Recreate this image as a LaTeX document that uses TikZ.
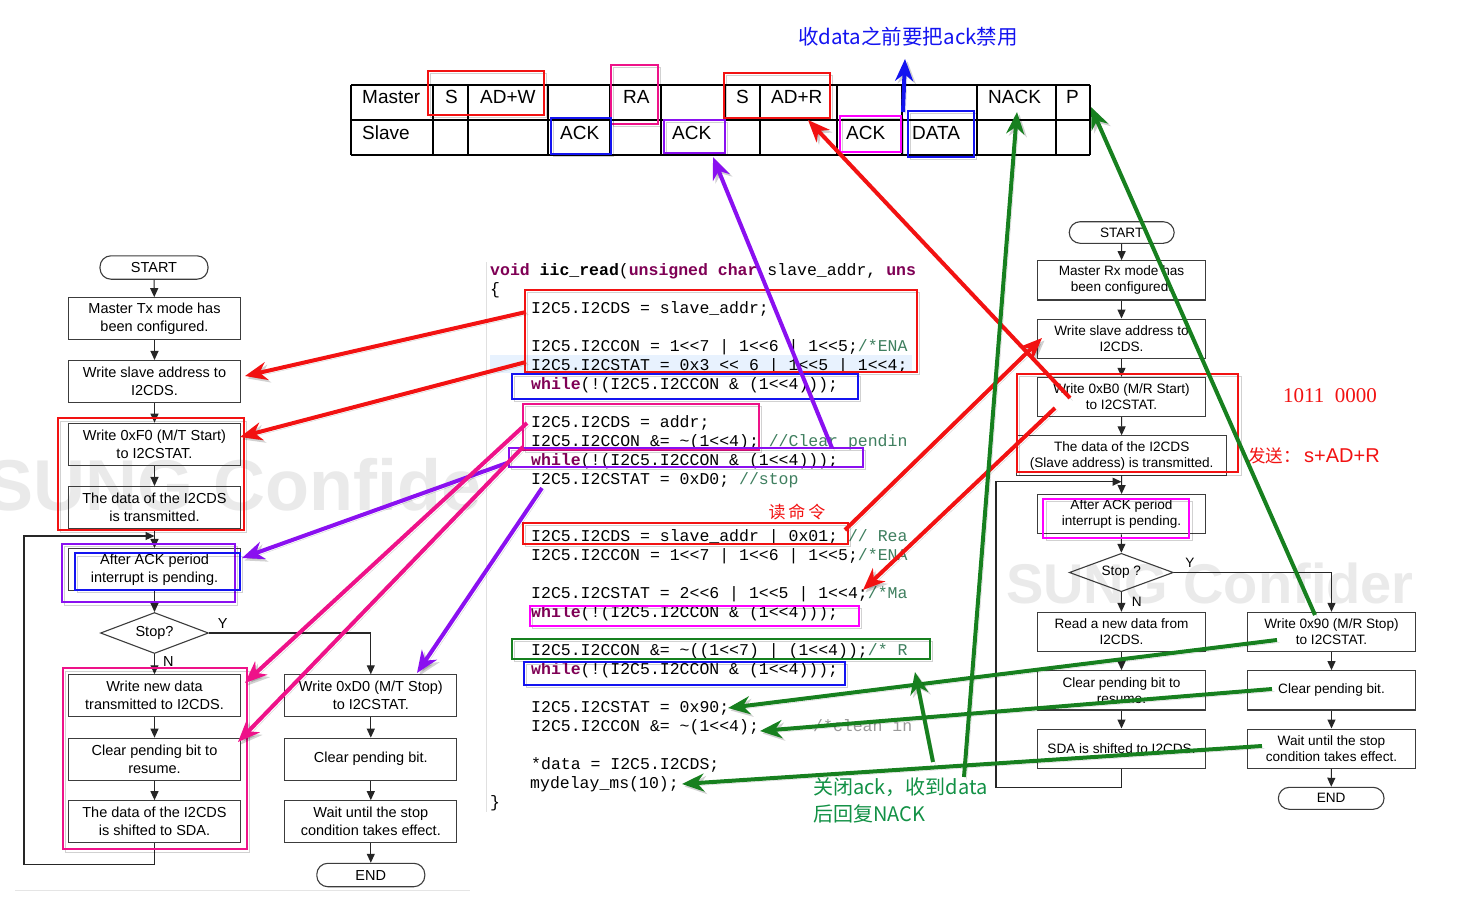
\documentclass[tikz,border=0pt]{standalone}
\usepackage{fontspec}
\setmainfont{Liberation Sans}
\setmonofont{Liberation Mono}
\newfontfamily\cjk{Noto Sans CJK SC}
\newfontfamily\serifnum{Liberation Serif}
\usetikzlibrary{arrows.meta,shapes.geometric,calc}
\definecolor{kwc}{HTML}{7F0055}
\definecolor{cmc}{HTML}{3F7F5F}
\definecolor{aRed}{HTML}{F21212}
\definecolor{aPink}{HTML}{EE1289}
\definecolor{aMag}{HTML}{FF00FF}
\definecolor{aPur}{HTML}{8A10F0}
\definecolor{aBlue}{HTML}{1414F0}
\definecolor{aGreen}{HTML}{17801F}
\definecolor{tGreen}{HTML}{129145}
\definecolor{hlc}{HTML}{E8F2FE}
\definecolor{edgec}{HTML}{3C3C3C}
\definecolor{wmc}{HTML}{EAEAEA}
\newcommand{\kwd}[1]{\textcolor{kwc}{\bfseries #1}}
\newcommand{\cmt}[1]{\textcolor{cmc}{#1}}
\tikzset{
  shadowed/.style={preaction={draw=black, opacity=0.18, transform canvas={shift={(2.5pt,-2.5pt)}}}},
  bigarrow/.style={draw=#1, line width=4pt, -{Stealth[length=22pt,width=18pt,inset=7pt]}, shadowed},
  hbox/.style={draw=#1, line width=2.2pt, shadowed},
  fbl/.style={draw=edgec, line width=1.1pt, minimum width=172pt, minimum height=42pt, align=center, inner sep=0pt, font=\fontsize{14.5}{18}\selectfont},
  fbr/.style={fbl, minimum width=168.4pt, minimum height=39.3pt, font=\fontsize{13.6}{16}\selectfont},
  pill/.style={draw=edgec, line width=1.1pt, rounded corners=11pt, minimum width=108pt, minimum height=23.4pt, inner sep=0pt, font=\fontsize{14.5}{16}\selectfont},
  dia/.style={diamond, aspect=2.6, draw=edgec, line width=1.1pt, minimum width=108pt, minimum height=41pt, inner sep=0pt, font=\fontsize{14.5}{16}\selectfont},
  flow/.style={draw=black!85, line width=1.1pt, -{Triangle[length=9pt,width=8pt]}},
  lab/.style={inner sep=0pt, font=\fontsize{14.5}{16}\selectfont},
  tline/.style={draw=black, line width=1.2pt},
  ttext/.style={anchor=base west, inner sep=0pt, font=\fontsize{19}{22}\selectfont},
  code/.style={anchor=base west, inner sep=0pt, font=\ttfamily\fontsize{16.5}{19}\selectfont},
  wmark/.style={anchor=base west, inner sep=0pt, text=wmc, font=\bfseries},
}
\begin{document}
\begin{tikzpicture}[x=1pt,y=-1pt]
\useasboundingbox (0,0) rectangle (1459,898);
\fill[white] (0,0) rectangle (1459,898);

% ---------- watermarks (behind) ----------
\begin{scope}
\clip (0,0) rectangle (480,898);
\node[wmark, font=\bfseries\fontsize{72}{76}\selectfont] (wm1) at (-15,510) {SUNG Confide};
\end{scope}
\node[wmark, font=\bfseries\fontsize{56}{60}\selectfont] (wm2) at (1006,603) {SUNG Confider};

% ---------- top table ----------
\foreach \yy in {85,120,155} \draw[tline] (351,\yy) -- (1090,\yy);
\foreach \xx in {351,433,468,548,610,661,725,760,837,902,977,1056,1090} \draw[tline] (\xx,85) -- (\xx,155);
\node[ttext] (tMaster) at (362,103) {Master};
\node[ttext] (tS1) at (445,103) {S};
\node[ttext] (tADW) at (480,103) {AD+W};
\node[ttext] (tRA) at (623,103) {RA};
\node[ttext] (tS2) at (736,103) {S};
\node[ttext] (tADR) at (771,103) {AD+R};
\node[ttext] (tNACK) at (988,103) {NACK};
\node[ttext] (tP) at (1066,103) {P};
\node[ttext] (tSlave) at (362,139) {Slave};
\node[ttext] (tACK1) at (560,139) {ACK};
\node[ttext] (tACK2) at (672,139) {ACK};
\node[ttext] (tACK3) at (846,139) {ACK};
\node[ttext] (tDATA) at (912,139) {DATA};

\draw[hbox=aRed] (428,71) rectangle (544,115);
\draw[hbox=aPink] (611,65) rectangle (658,124);
\draw[hbox=aRed] (724,73) rectangle (830,118);
\draw[hbox=aBlue] (551,118) rectangle (611,154);
\draw[hbox=aPur] (664,120) rectangle (725,153);
\draw[hbox=aMag] (840,116) rectangle (901,152);
\draw[hbox=aBlue] (908,111) rectangle (974,157);

\node[font=\cjk\fontsize{20.5}{23}\selectfont, text=aBlue, inner sep=0pt] (noteB) at (908,37) {收data之前要把ack禁用};

% ---------- code ----------
\fill[hlc] (490,355) rectangle (912,373);
\draw[black!12, line width=0.8pt] (486,262) -- (486,812);
\node[code] (c1) at (490,275.5) {\kwd{void} \textbf{iic\_read}(\kwd{unsigned char} slave\_addr, \kwd{uns}};
\node[code] (c2) at (490,294.5) {\{};
\node[code] (c3) at (531,313.5) {I2C5.I2CDS = slave\_addr;};
\node[code] (c5) at (531,351.5) {I2C5.I2CCON = 1<<7 | 1<<6 | 1<<5;\cmt{/*ENA}};
\node[code] (c6) at (531,370.5) {I2C5.I2CSTAT = 0x3 << 6 | 1<<5 | 1<<4;};
\node[code] (c7) at (531,389.5) {\kwd{while}(!(I2C5.I2CCON \& (1<<4)));};
\node[code] (c9) at (531,427.5) {I2C5.I2CDS = addr;};
\node[code] (c10) at (531,446.5) {I2C5.I2CCON \&= \textasciitilde(1<<4); \cmt{//Clear pendin}};
\node[code] (c11) at (531,465.5) {\kwd{while}(!(I2C5.I2CCON \& (1<<4)));};
\node[code] (c12) at (531,484.5) {I2C5.I2CSTAT = 0xD0; \cmt{//stop}};
\node[code] (c15) at (531,541.5) {I2C5.I2CDS = slave\_addr | 0x01; \cmt{// Rea}};
\node[code] (c16) at (531,560.5) {I2C5.I2CCON = 1<<7 | 1<<6 | 1<<5;\cmt{/*ENA}};
\node[code] (c18) at (531,598.5) {I2C5.I2CSTAT = 2<<6 | 1<<5 | 1<<4;\cmt{/*Ma}};
\node[code] (c19) at (531,617.5) {\kwd{while}(!(I2C5.I2CCON \& (1<<4)));};
\node[code] (c21) at (531,655.5) {I2C5.I2CCON \&= \textasciitilde((1<<7) | (1<<4));\cmt{/* R}};
\node[code] (c22) at (531,674.5) {\kwd{while}(!(I2C5.I2CCON \& (1<<4)));};
\node[code] (c24) at (531,712.5) {I2C5.I2CSTAT = 0x90;};
\node[code] (c25) at (531,731.5) {I2C5.I2CCON \&= \textasciitilde(1<<4);};
\node[code, text=black!40] (c25c) at (813,731.5) {/*clean in};
\node[code] (c27) at (531,769.5) {*data = I2C5.I2CDS;};
\node[code] (c28) at (530,788.5) {mydelay\_ms(10);};
\node[code] (c29) at (490,807.5) {\}};

\draw[hbox=aRed] (525,290) rectangle (917,372);
\draw[hbox=aBlue] (512,374) rectangle (858,399);
\draw[hbox=aPink] (523,404) rectangle (759,450);
\draw[hbox=aPur] (509,448) rectangle (863,467);
\draw[hbox=aRed] (523,523) rectangle (848,544);
\draw[hbox=aMag] (530,606) rectangle (859,626);
\draw[hbox=aGreen] (512,639) rectangle (930,659);
\draw[hbox=aBlue] (524,662) rectangle (845,685);

\node[font=\cjk\fontsize{17}{20}\selectfont, text=aRed, inner sep=0pt] (noteR) at (797,512) {读\,命\,令};

% ---------- left flowchart ----------
\node[pill] (ls) at (154,267.5) {START};
\node[fbl] (l1) at (154.5,318.7) {Master Tx mode has\\been configured.};
\node[fbl] (l2) at (154.5,381.5) {Write slave address to\\I2CDS.};
\node[fbl] (l3) at (154.5,444.2) {Write 0xF0 (M/T Start)\\to I2CSTAT.};
\node[fbl] (l4) at (154.5,507.5) {The data of the I2CDS\\is transmitted.};
\node[fbl] (l5) at (154.5,569.5) {After ACK period\\interrupt is pending.};
\node[dia] (ld) at (154.5,633) {Stop?};
\node[fbl] (l6) at (154.5,695.8) {Write new data\\transmitted to I2CDS.};
\node[fbl] (l7) at (154.5,759.2) {Clear pending bit to\\resume.};
\node[fbl] (l8) at (154.5,821.7) {The data of the I2CDS\\is shifted to SDA.};
\node[fbl] (m6) at (370.8,695.8) {Write 0xD0 (M/T Stop)\\to I2CSTAT.};
\node[fbl] (m7) at (370.8,759.2) {Clear pending bit.};
\node[fbl] (m8) at (370.8,821.7) {Wait until the stop\\condition takes effect.};
\node[pill] (le) at (370.8,875) {END};
\coordinate (lj) at (154.5,536);
\draw[flow] (ls) -- (l1);
\draw[flow] (l1) -- (l2);
\draw[flow] (l2) -- (l3);
\draw[flow] (l3) -- (l4);
\draw[flow] (l4) -- (l5);
\draw[flow] (l5) -- (ld);
\draw[flow] (ld) -- (l6);
\draw[flow] (l6) -- (l7);
\draw[flow] (l7) -- (l8);
\draw[flow] (ld.east) -| (m6.north);
\draw[flow] (m6) -- (m7);
\draw[flow] (m7) -- (m8);
\draw[flow] (m8) -- (le);
\draw[flow] (l8.south) -- ++(0,21) -| (24,536) -- (lj);
\node[lab] (lY) at (222.7,623.3) {Y};
\node[lab] (lN) at (168.3,661.7) {N};
\draw[black!10, line width=0.8pt] (15,890) -- (470,890);

\draw[hbox=aRed] (57.7,418.3) rectangle (244,530);
\draw[hbox=aPur] (61.7,544) rectangle (235,602.3);
\draw[hbox=aBlue] (75,553.3) rectangle (240,590);
\draw[hbox=aPink] (62.7,668.3) rectangle (246.7,849.3);

% ---------- right flowchart ----------
\node[pill, minimum width=105pt, minimum height=21.6pt, font=\fontsize{13.6}{16}\selectfont] (rs) at (1121.7,232.5) {START};
\node[fbr] (r1) at (1121.5,280.3) {Master Rx mode has\\been configured.};
\node[fbr] (r2) at (1121.5,338.7) {Write slave address to\\I2CDS.};
\node[fbr] (r3) at (1121.5,397) {Write 0xB0 (M/R Start)\\to I2CSTAT.};
\node[fbr, minimum width=210pt] (r4) at (1121.7,455.5) {The data of the I2CDS\\(Slave address) is transmitted.};
\node[fbr] (r5) at (1121.5,514.2) {After ACK period\\interrupt is pending.};
\node[dia, minimum width=104pt, minimum height=38.4pt, font=\fontsize{13.6}{16}\selectfont] (rd) at (1121.3,572.5) {Stop ?};
\node[fbr] (r6) at (1121.5,632) {Read a new data from\\I2CDS.};
\node[fbr] (r7) at (1121.5,690.3) {Clear pending bit to\\resume.};
\node[fbr] (r8) at (1121.5,748.7) {SDA is shifted to I2CDS.};
\node[fbr] (n6) at (1331.5,632) {Write 0x90 (M/R Stop)\\to I2CSTAT.};
\node[fbr] (n7) at (1331.5,690.3) {Clear pending bit.};
\node[fbr] (n8) at (1331.5,748.7) {Wait until the stop\\condition takes effect.};
\node[pill, minimum width=105.7pt, minimum height=22pt, font=\fontsize{13.6}{16}\selectfont] (re) at (1331.2,798.3) {END};
\coordinate (rj) at (1121.5,481.7);
\draw[flow] (rs) -- (r1);
\draw[flow] (r1) -- (r2);
\draw[flow] (r2) -- (r3);
\draw[flow] (r3) -- (r4);
\draw[flow] (r4) -- (r5);
\draw[flow] (r5) -- (rd);
\draw[flow] (rd) -- (r6);
\draw[flow] (r6) -- (r7);
\draw[flow] (r7) -- (r8);
\draw[flow] (rd.east) -| (n6.north);
\draw[flow] (n6) -- (n7);
\draw[flow] (n7) -- (n8);
\draw[flow] (n8) -- (re);
\draw[flow] (r8.south) -- ++(0,19) -| (996,481.7) -- (rj);
\node[lab, font=\fontsize{13.6}{16}\selectfont] (rY) at (1190,562.7) {Y};
\node[lab, font=\fontsize{13.6}{16}\selectfont] (rN) at (1136.7,601.7) {N};

\draw[hbox=aRed] (1016.7,374) rectangle (1238.3,472.3);
\draw[hbox=aMag] (1043.3,499) rectangle (1189.3,537.7);

\node[font=\serifnum\fontsize{21}{24}\selectfont, text=aRed, inner sep=0pt] (noteNum) at (1330,396) {1011\ \ 0000};
\node[font=\fontsize{20}{24}\selectfont, text=aRed, inner sep=0pt] (noteSend) at (1314,456) {{\cjk\fontsize{17.5}{20}\selectfont 发送：}\,s+AD+R};

% ---------- green notes ----------
\node[font=\cjk\fontsize{20}{23}\selectfont, text=tGreen, anchor=west, inner sep=0pt] (noteG1) at (813,787) {关闭ack，收到data};
\node[font=\cjk\fontsize{20}{23}\selectfont, text=tGreen, anchor=west, inner sep=0pt] (noteG2) at (813,814) {后回复NACK};

% ---------- big arrows ----------
\coordinate (a1s) at (526,312); \coordinate (a1e) at (245,376);
\coordinate (a2s) at (526,362); \coordinate (a2e) at (240,437);
\coordinate (a3s) at (845,530); \coordinate (a3e) at (1042,338);
\coordinate (a4s) at (1055,408); \coordinate (a4e) at (863,590);
\coordinate (a5s) at (1070,398); \coordinate (a5e) at (808,120);
\coordinate (p1s) at (507,463); \coordinate (p1e) at (242,558);
\coordinate (p2s) at (542,488); \coordinate (p2e) at (417,673);
\coordinate (p3s) at (832,448); \coordinate (p3e) at (713,157);
\coordinate (k1s) at (527,423); \coordinate (k1e) at (245,683);
\coordinate (k2s) at (523,447); \coordinate (k2e) at (238,742);
\coordinate (g1s) at (1277,640); \coordinate (g1e) at (728,708);
\coordinate (g2s) at (1272,689); \coordinate (g2e) at (760,731);
\coordinate (g3s) at (1262,746); \coordinate (g3e) at (682,784);
\coordinate (g4s) at (933,762); \coordinate (g4e) at (915,672);
\coordinate (g5s) at (964,777); \coordinate (g5e) at (1017,112);
\coordinate (g6s) at (1315,615); \coordinate (g6e) at (1091,107);
\coordinate (b1s) at (903,112); \coordinate (b1e) at (905,59);

\draw[bigarrow=aRed] (a1s) -- (a1e);
\draw[bigarrow=aRed] (a2s) -- (a2e);
\draw[bigarrow=aRed] (a3s) -- (a3e);
\draw[bigarrow=aRed] (a4s) -- (a4e);
\draw[bigarrow=aRed] (a5s) -- (a5e);
\draw[bigarrow=aPur] (p1s) -- (p1e);
\draw[bigarrow=aPur] (p2s) -- (p2e);
\draw[bigarrow=aPur] (p3s) -- (p3e);
\draw[bigarrow=aPink] (k1s) -- (k1e);
\draw[bigarrow=aPink] (k2s) -- (k2e);
\draw[bigarrow=aGreen] (g1s) -- (g1e);
\draw[bigarrow=aGreen] (g2s) -- (g2e);
\draw[bigarrow=aGreen] (g3s) -- (g3e);
\draw[bigarrow=aGreen] (g4s) -- (g4e);
\draw[bigarrow=aGreen] (g5s) -- (g5e);
\draw[bigarrow=aGreen] (g6s) -- (g6e);
\draw[bigarrow=aBlue] (b1s) -- (b1e);
\end{tikzpicture}
\end{document}
